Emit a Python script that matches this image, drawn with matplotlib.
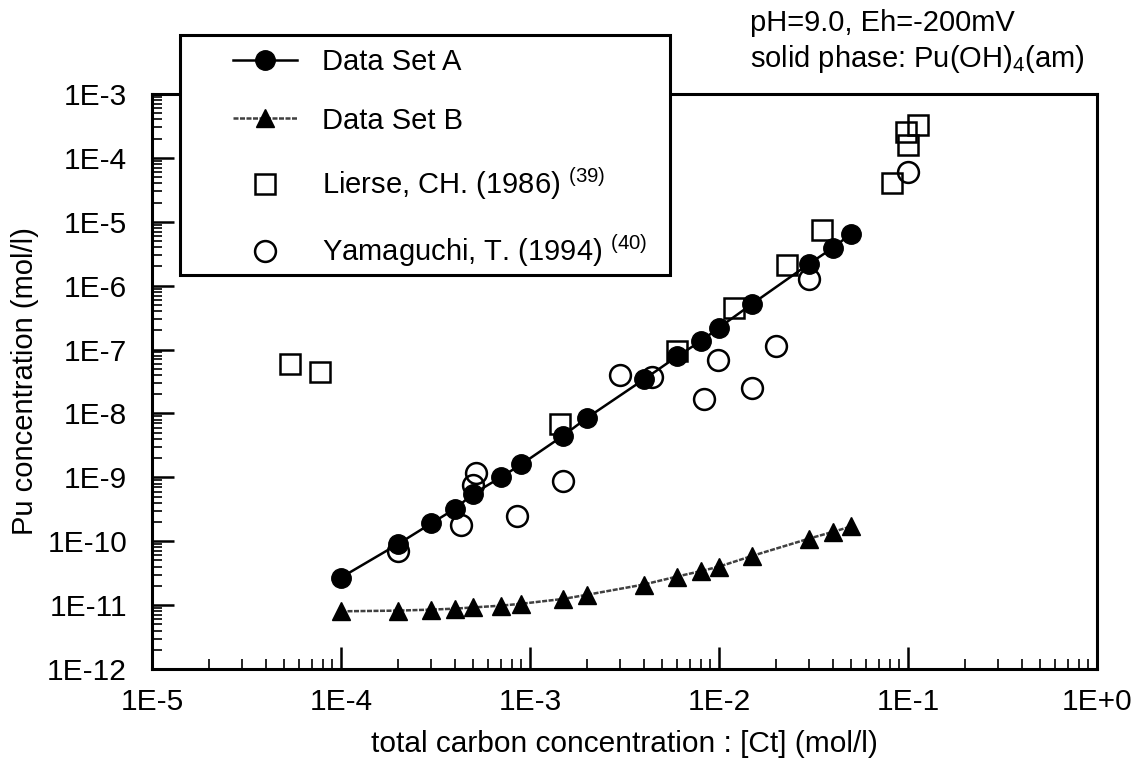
import numpy as np
import matplotlib.pyplot as plt
from matplotlib.patches import Rectangle
from matplotlib.ticker import LogLocator, FuncFormatter, NullFormatter

plt.rcParams['font.family'] = ['Liberation Sans', 'DejaVu Sans']
plt.rcParams['mathtext.fontset'] = 'custom'
plt.rcParams['mathtext.rm'] = 'Liberation Sans'
plt.rcParams['mathtext.it'] = 'Liberation Sans'

# --- data ---
ct_A = [1e-4, 2e-4, 3e-4, 4e-4, 5e-4, 7e-4, 9e-4, 1.5e-3, 2e-3, 4e-3, 6e-3, 8e-3,
        1e-2, 1.5e-2, 3e-2, 4e-2, 5e-2]
pu_A = [2.7e-11, 9e-11, 1.9e-10, 3.2e-10, 5.5e-10, 1.0e-9, 1.6e-9, 4.5e-9, 8.5e-9,
        3.4e-8, 7.8e-8, 1.35e-7, 2.2e-7, 5.2e-7, 2.2e-6, 3.9e-6, 6.5e-6]

ct_B = [1e-4, 2e-4, 3e-4, 4e-4, 5e-4, 7e-4, 9e-4, 1.5e-3, 2e-3, 4e-3, 6e-3, 8e-3,
        1e-2, 1.5e-2, 3e-2, 4e-2, 5e-2]
pu_B = [8e-12, 8.2e-12, 8.5e-12, 8.8e-12, 9.2e-12, 9.8e-12, 1.05e-11, 1.25e-11, 1.45e-11,
        2.1e-11, 2.8e-11, 3.4e-11, 4.0e-11, 5.9e-11, 1.1e-10, 1.4e-10, 1.7e-10]

ct_lierse = [5.4e-5, 7.7e-5, 1.45e-3, 6e-3, 1.2e-2, 2.3e-2, 3.5e-2, 8.2e-2, 9.8e-2, 0.1, 0.113]
pu_lierse = [5.9e-8, 4.5e-8, 6.8e-9, 9.5e-8, 4.5e-7, 2.1e-6, 7.4e-6, 4.0e-5, 2.5e-4, 1.6e-4, 3.3e-4]

ct_yama = [2e-4, 4.3e-4, 5e-4, 5.2e-4, 8.5e-4, 1.5e-3, 3e-3, 4.4e-3, 8.3e-3, 9.9e-3,
           1.5e-2, 2e-2, 3e-2, 0.1]
pu_yama = [7e-11, 1.8e-10, 7.5e-10, 1.15e-9, 2.5e-10, 8.8e-10, 4.0e-8, 3.7e-8, 1.7e-8, 6.9e-8,
           2.5e-8, 1.15e-7, 1.25e-6, 6e-5]

W, H = 1138, 764
fig = plt.figure(figsize=(W / 100, H / 100), dpi=100)
ax = fig.add_axes([152 / W, 1 - 669 / H, (1097 - 152) / W, (669 - 94) / H])

ax.plot(ct_A, pu_A, '-o', color='black', lw=1.8, ms=14, label='Data Set A', zorder=3)
ax.plot(ct_B, pu_B, '-^', color='0.25', mfc='black', mec='black', lw=1.8, ms=13,
        ls=(0, (2, 0.6)), label='Data Set B', zorder=3)
ax.plot(ct_lierse, pu_lierse, 's', mfc='none', mec='black', mew=1.8, ms=15, ls='none',
        label='Lierse, CH. (1986) $^{(39)}$', zorder=4)
ax.plot(ct_yama, pu_yama, 'o', mfc='none', mec='black', mew=1.8, ms=15, ls='none',
        label='Yamaguchi, T. (1994) $^{(40)}$', zorder=4)

ax.set_xscale('log')
ax.set_yscale('log')
ax.set_xlim(1e-5, 1e0)
ax.set_ylim(1e-12, 1e-3)

fmt = FuncFormatter(lambda v, p: '1E%+d' % int(round(np.log10(v))))
ax.xaxis.set_major_locator(LogLocator(base=10, numticks=20))
ax.yaxis.set_major_locator(LogLocator(base=10, numticks=20))
ax.xaxis.set_minor_locator(LogLocator(base=10, subs=np.arange(2, 10), numticks=20))
ax.yaxis.set_minor_locator(LogLocator(base=10, subs=np.arange(2, 10), numticks=20))
ax.xaxis.set_major_formatter(fmt)
ax.yaxis.set_major_formatter(fmt)
ax.xaxis.set_minor_formatter(NullFormatter())
ax.yaxis.set_minor_formatter(NullFormatter())

ax.tick_params(which='both', direction='in', top=False, right=False, labelsize=21.5)
ax.tick_params(which='major', length=16, width=1.8)
ax.tick_params(which='minor', length=7, width=1.2)
ax.tick_params(axis='x', which='major', pad=14)
ax.tick_params(axis='y', which='major', pad=18)
for s in ax.spines.values():
    s.set_linewidth(2.2)

ax.set_xlabel('total carbon concentration : [Ct] (mol/l)', fontsize=21.5, labelpad=10)
ax.set_ylabel('Pu concentration (mol/l)', fontsize=21, labelpad=6)

fig.text(750 / W, 1 - 31 / H, 'pH=9.0, Eh=-200mV', fontsize=21, va='baseline', ha='left')
fig.text(750 / W, 1 - 67 / H, 'solid phase: Pu(OH)$_4$(am)', fontsize=21, va='baseline', ha='left')

# legend frame drawn separately, entries placed inside it
fig.patches.append(Rectangle((180 / W, 1 - 275 / H), (670 - 180) / W, (275 - 35) / H,
                             transform=fig.transFigure, fill=True, facecolor='white',
                             edgecolor='black', lw=2.2, zorder=5))
leg = fig.legend(loc='upper left', bbox_to_anchor=(233 / W, 1 - 48 / H), borderaxespad=0,
                 fontsize=21, frameon=False, handlelength=2.2, handletextpad=0.86,
                 labelspacing=1.05, borderpad=0, numpoints=1)
leg.set_zorder(6)

fig.savefig('out.png', dpi=100)
